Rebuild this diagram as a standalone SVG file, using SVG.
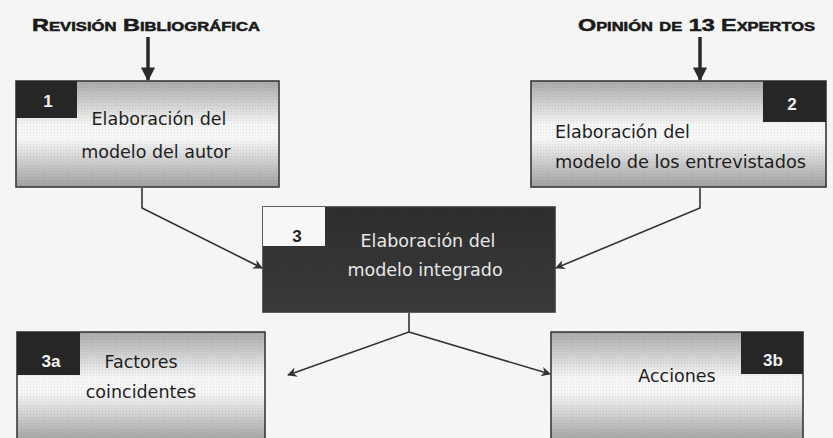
<svg xmlns="http://www.w3.org/2000/svg" width="833" height="438" viewBox="0 0 833 438">
<style>
.box{stroke:#3a3a3a;stroke-width:1.6}
.light{fill:url(#gLight)}
.dark{fill:url(#gDark)}
.dots{fill:url(#halftone);stroke:none}
.badge{fill:#262626}
.wbadge{fill:#f7f7f7}
.txt{font-family:"DejaVu Sans",Verdana,sans-serif;font-size:17.5px;fill:#1e1e1e}
.wtxt{font-family:"DejaVu Sans",Verdana,sans-serif;font-size:17.5px;fill:#e8e8e8}
.num{font-family:"Liberation Sans",Arial,sans-serif;font-weight:bold;font-size:17px;fill:#f2f2f2}
.numd{font-family:"Liberation Sans",Arial,sans-serif;font-weight:bold;font-size:17px;fill:#222}
.title{font-family:"Liberation Sans",Arial,sans-serif;font-weight:900;font-size:17px;font-variant:small-caps;fill:#1a1a1a;stroke:#1a1a1a;stroke-width:0.5}
.thick{stroke:#2a2a2a;stroke-width:3.5;fill:none}
.thin{stroke:#333;stroke-width:1.6;fill:none}
</style>
<defs>
<linearGradient id="gLight" x1="0" y1="0" x2="0" y2="1">
<stop offset="0" stop-color="#a9a9a9"/>
<stop offset="0.42" stop-color="#f6f6f6"/>
<stop offset="0.55" stop-color="#f6f6f6"/>
<stop offset="1" stop-color="#a0a0a0"/>
</linearGradient>
<linearGradient id="gDark" x1="0" y1="0" x2="0" y2="1">
<stop offset="0" stop-color="#2e2e2e"/>
<stop offset="1" stop-color="#3a3a3a"/>
</linearGradient>
<pattern id="halftone" width="3" height="3" patternUnits="userSpaceOnUse">
<rect x="0" y="0" width="1" height="1" fill="#000" fill-opacity="0.08"/>
</pattern>
<marker id="ahBig" viewBox="0 0 10 10" refX="9" refY="5" markerWidth="4" markerHeight="4" orient="auto" markerUnits="strokeWidth">
<path d="M0,0 L10,5 L0,10 z" fill="#2a2a2a"/>
</marker>
<marker id="ah" viewBox="0 0 10 10" refX="9" refY="5" markerWidth="7" markerHeight="6" orient="auto" markerUnits="strokeWidth">
<path d="M0,0 L10,5 L0,10 L3,5 z" fill="#333"/>
</marker>
</defs>
<rect width="833" height="438" fill="#f5f5f5"/>

<g id="titles">
<text class="title" x="32" y="31" textLength="228" lengthAdjust="spacingAndGlyphs">Revisión Bibliográfica</text>
<text class="title" x="578" y="31" textLength="237" lengthAdjust="spacingAndGlyphs">Opinión de 13 Expertos</text>
</g>

<g id="connectors">
<line class="thick" x1="148" y1="37" x2="148" y2="80" marker-end="url(#ahBig)"/>
<line class="thick" x1="700" y1="37" x2="700" y2="80" marker-end="url(#ahBig)"/>
<polyline class="thin" points="142,188 142,208 262,268" marker-end="url(#ah)"/>
<polyline class="thin" points="700,188 700,208 556,268" marker-end="url(#ah)"/>
<polyline class="thin" points="409,313 409,332 288,375" marker-end="url(#ah)"/>
<polyline class="thin" points="409,332 550,374" marker-end="url(#ah)"/>
</g>

<g id="node1">
<rect class="box light" x="16" y="81" width="263" height="106"/>
<rect class="dots" x="16" y="81" width="263" height="106"/>
<rect class="badge" x="16" y="81" width="61" height="37"/>
<text class="num" x="48" y="107" text-anchor="middle">1</text>
<text class="txt" x="159" y="125" text-anchor="middle">Elaboración del</text>
<text class="txt" x="156" y="158" text-anchor="middle">modelo del autor</text>
</g>

<g id="node2">
<rect class="box light" x="531" y="81" width="295" height="106"/>
<rect class="dots" x="531" y="81" width="295" height="106"/>
<rect class="badge" x="763" y="81" width="63" height="41"/>
<text class="num" x="792" y="110" text-anchor="middle">2</text>
<text class="txt" x="555" y="138">Elaboración del</text>
<text class="txt" x="555" y="168" textLength="251" lengthAdjust="spacingAndGlyphs">modelo de los entrevistados</text>
</g>

<g id="node3">
<rect class="box dark" x="263" y="207" width="292" height="105"/>
<rect class="dots" x="263" y="207" width="292" height="105"/>
<rect class="wbadge" x="263" y="207" width="62" height="39"/>
<text class="numd" x="297" y="242" text-anchor="middle">3</text>
<text class="wtxt" x="428" y="247" text-anchor="middle">Elaboración del</text>
<text class="wtxt" x="425" y="276" text-anchor="middle">modelo integrado</text>
</g>

<g id="node3a">
<rect class="box light" x="17" y="332" width="248" height="110"/>
<rect class="dots" x="17" y="332" width="248" height="110"/>
<rect class="badge" x="17" y="332" width="63" height="43"/>
<text class="num" x="51" y="367" text-anchor="middle">3a</text>
<text class="txt" x="141" y="368" text-anchor="middle">Factores</text>
<text class="txt" x="141" y="398" text-anchor="middle">coincidentes</text>
</g>

<g id="node3b">
<rect class="box light" x="551" y="332" width="252" height="110"/>
<rect class="dots" x="551" y="332" width="252" height="110"/>
<rect class="badge" x="741" y="332" width="62" height="42"/>
<text class="num" x="773" y="366" text-anchor="middle">3b</text>
<text class="txt" x="677" y="382" text-anchor="middle">Acciones</text>
</g>
</svg>
